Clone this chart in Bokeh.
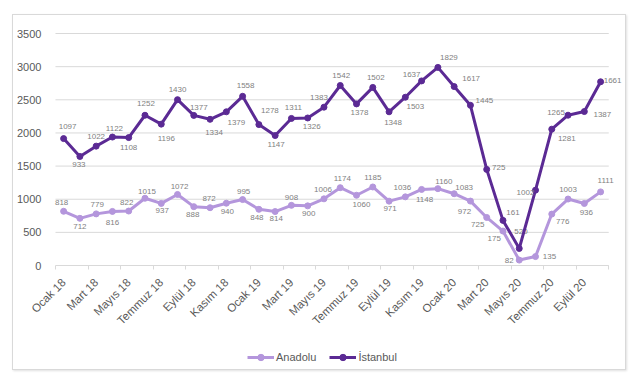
import numpy as np
from bokeh.plotting import figure
from bokeh.models import FixedTicker, Legend, LegendItem, ColumnDataSource, LinearAxis
from bokeh.core.properties import value
from bokeh.embed import file_html
from bokeh.resources import INLINE

months = [
    "Ocak 18", "Şubat 18", "Mart 18", "Nisan 18", "Mayıs 18", "Haziran 18",
    "Temmuz 18", "Ağustos 18", "Eylül 18", "Ekim 18", "Kasım 18", "Aralık 18",
    "Ocak 19", "Şubat 19", "Mart 19", "Nisan 19", "Mayıs 19", "Haziran 19",
    "Temmuz 19", "Ağustos 19", "Eylül 19", "Ekim 19", "Kasım 19", "Aralık 19",
    "Ocak 20", "Şubat 20", "Mart 20", "Nisan 20", "Mayıs 20", "Haziran 20",
    "Temmuz 20", "Ağustos 20", "Eylül 20", "Ekim 20",
]

anadolu = [818, 712, 779, 816, 822, 1015, 937, 1072, 888, 872, 940, 995,
           848, 814, 908, 900, 1006, 1174, 1060, 1185, 971, 1036, 1148, 1160,
           1083, 972, 725, 520, 82, 135, 776, 1003, 936, 1111]

istanbul = [1097, 933, 1022, 1122, 1108, 1252, 1196, 1430, 1377, 1334, 1379, 1558,
            1278, 1147, 1311, 1326, 1383, 1542, 1378, 1502, 1348, 1503, 1637, 1829,
            1617, 1445, 725, 161, 175, 1002, 1281, 1265, 1387, 1661]

y_ticks = [0, 500, 1000, 1500, 2000, 2500, 3000, 3500]

# label offsets in screen px (styles, not data)
ana_dx = [-2, 0, 1, 0, -2, 2, 1, 2, -1, -1, 1, 1, -2, 1, 0, 1, -1, 2, 5, 0, 1, -3, 3, 6,
          10, -6, -9, 18, -10, 14, 11, 0, 2, 5]
ana_dy = [-9, 8, -9, 11, -9, -7, 7, -8, 8, -9, 8, -8, 8, 7, -8, 8, -9, -9, 9, -9, 7, -9, 10, -7,
          -6, 10, 7, 0, 0, 0, 7, -10, 9, -11]
ist_dx = [4, -1, 0, 2, 0, 1, 5, 0, 5, 4, 10, 3, 11, 1, 2, 4, -5, 1, 3, 3, 4, 10, -10, 11,
          17, 14, 12, 10, -25, -10, 15, -12, 18, 12]
ist_dy = [-12, 8, -10, -9, 10, -12, 14, -10, -8, 13, 11, -11, -14, 9, -11, 9, -10, -10, 9, -10, 11, 9, -6, -10,
          -8, -5, -2, -8, -10, 2, 9, -3, 3, -1]

DARK = "#5B2A94"
LIGHT = "#B496DC"
GRAY = "#595959"
GRID = "#d9d9d9"
FONT = "Liberation Sans"

n = len(months)
x = np.arange(n)
ana = np.array(anadolu)
ist_top = ana + np.array(istanbul)

src_a = ColumnDataSource(dict(x=x, y=ana, t=[str(v) for v in anadolu], dx=ana_dx, dy=ana_dy))
src_i = ColumnDataSource(dict(x=x, y=ist_top, t=[str(v) for v in istanbul], dx=ist_dx, dy=ist_dy))

p = figure(width=614, height=356, output_backend="svg", toolbar_location=None,
           x_range=(-3.08, n - 0.5 + 1.03), y_range=(-1599, 3772),
           min_border_left=0, min_border_right=2, min_border_top=0, min_border_bottom=0)
p.styles = {"border": "1px solid #d9d9d9", "margin-left": "12px", "margin-top": "14px",
            "box-shadow": "1px 1px 2px rgba(0,0,0,0.12)"}
p.outline_line_color = None
p.background_fill_color = "white"
p.border_fill_color = "white"

p.xgrid.grid_line_color = None
p.ygrid.grid_line_color = None

# horizontal gridlines spanning only the category area
p.segment(x0=[-0.5] * len(y_ticks), x1=[n - 0.5] * len(y_ticks), y0=y_ticks, y1=y_ticks,
          line_color=GRID, line_width=1)

p.yaxis.fixed_location = -0.5
p.yaxis.ticker = FixedTicker(ticks=y_ticks)
p.yaxis.axis_line_color = None
p.yaxis.major_tick_line_color = None
p.yaxis.minor_tick_line_color = None
p.yaxis.major_label_text_font = FONT
p.yaxis.major_label_text_font_size = "11px"
p.yaxis.major_label_text_color = GRAY
p.yaxis.major_label_standoff = 8

# small tick marks at category boundaries
tick_axis = LinearAxis(fixed_location=0,
                       ticker=FixedTicker(ticks=[i - 0.5 for i in range(0, n + 1, 2)]),
                       axis_line_color=None, major_tick_line_color=GRID,
                       major_tick_in=0, major_tick_out=4, minor_tick_line_color=None,
                       major_label_text_alpha=0, major_label_text_font_size="1px")
p.add_layout(tick_axis, "below")

p.xaxis[0].fixed_location = 0
p.xaxis[0].ticker = FixedTicker(ticks=list(range(0, n, 2)))
p.xaxis[0].major_label_overrides = {i: months[i] for i in range(0, n, 2)}
p.xaxis[0].major_label_orientation = 0.7854
p.xaxis[0].axis_line_color = None
p.xaxis[0].major_tick_line_color = None
p.xaxis[0].minor_tick_line_color = None
p.xaxis[0].major_label_text_font = FONT
p.xaxis[0].major_label_text_font_size = "11.5px"
p.xaxis[0].major_label_text_color = GRAY
p.xaxis[0].major_label_standoff = 9

la = p.line("x", "y", source=src_a, line_color=LIGHT, line_width=3)
ca = p.scatter("x", "y", source=src_a, size=6, fill_color=LIGHT, line_color=LIGHT)
p.text("x", "y", text="t", source=src_a, x_offset="dx", y_offset="dy",
       text_font=value(FONT), text_font_size="8px", text_color="#7f7f7f",
       text_align="center", text_baseline="middle")

li = p.line("x", "y", source=src_i, line_color=DARK, line_width=3)
ci = p.scatter("x", "y", source=src_i, size=6, fill_color=DARK, line_color=DARK)
p.text("x", "y", text="t", source=src_i, x_offset="dx", y_offset="dy",
       text_font=value(FONT), text_font_size="8px", text_color="#7f7f7f",
       text_align="center", text_baseline="middle")

legend = Legend(items=[LegendItem(label="Anadolu", renderers=[la, ca]),
                       LegendItem(label="İstanbul", renderers=[li, ci])],
                orientation="horizontal", location=(234, 6),
                glyph_width=27, glyph_height=16, label_standoff=2, spacing=13,
                padding=0, margin=0, border_line_color=None, background_fill_alpha=0,
                label_text_font=FONT, label_text_font_size="11px", label_text_color=GRAY)
p.add_layout(legend, "center")

open("out.html", "w").write(file_html(p, INLINE))
